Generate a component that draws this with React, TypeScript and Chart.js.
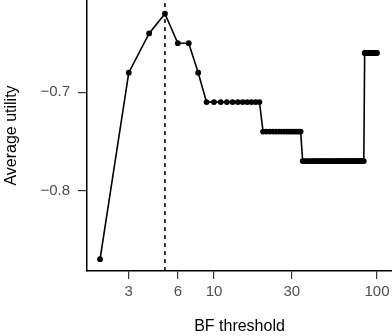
import React, { useEffect, useRef } from "react";
import { Chart, registerables } from "chart.js";

Chart.register(...registerables);

const bfThreshold = [
  2, 3, 4, 5, 6, 7, 8, 9, 10, 11, 12, 13, 14, 15, 16, 17, 18, 19, 20,
  21, 22, 23, 24, 25, 26, 27, 28, 29, 30, 31, 32, 33, 34, 35, 36, 37, 38, 39, 40,
  41, 42, 43, 44, 45, 46, 47, 48, 49, 50, 51, 52, 53, 54, 55, 56, 57, 58, 59, 60,
  61, 62, 63, 64, 65, 66, 67, 68, 69, 70, 71, 72, 73, 74, 75, 76, 77, 78, 79, 80,
  81, 82, 83, 84, 85, 86, 87, 88, 89, 90, 91, 92, 93, 94, 95, 96, 97, 98, 99, 100,
];

const averageUtility = [
  -0.87, -0.68, -0.64, -0.62, -0.65, -0.65, -0.68,
  -0.71, -0.71, -0.71, -0.71, -0.71, -0.71, -0.71, -0.71, -0.71, -0.71, -0.71,
  -0.74, -0.74, -0.74, -0.74, -0.74, -0.74, -0.74, -0.74, -0.74, -0.74, -0.74, -0.74, -0.74, -0.74, -0.74,
  -0.77, -0.77, -0.77, -0.77, -0.77, -0.77, -0.77, -0.77, -0.77, -0.77,
  -0.77, -0.77, -0.77, -0.77, -0.77, -0.77, -0.77, -0.77, -0.77, -0.77,
  -0.77, -0.77, -0.77, -0.77, -0.77, -0.77, -0.77, -0.77, -0.77, -0.77,
  -0.77, -0.77, -0.77, -0.77, -0.77, -0.77, -0.77, -0.77, -0.77, -0.77,
  -0.77, -0.77, -0.77, -0.77, -0.77, -0.77, -0.77, -0.77, -0.77,
  -0.66, -0.66, -0.66, -0.66, -0.66, -0.66, -0.66, -0.66, -0.66, -0.66,
  -0.66, -0.66, -0.66, -0.66, -0.66, -0.66, -0.66,
];

const optimalThreshold = 5;

const xTicks = [3, 6, 10, 30, 100];
const yTicks = [-0.8, -0.7];

const xMin = 1.663;
const xMax = 123.6;
const yMin = -0.882;
const yMax = -0.606;

const zeroPadding = (s: any) => {
  s.paddingTop = 0;
  s.paddingBottom = 0;
  s.paddingLeft = 0;
  s.paddingRight = 0;
};

export default function App() {
  const ref = useRef<HTMLCanvasElement>(null);

  useEffect(() => {
    if (!ref.current) return;
    const points = bfThreshold.map((x, i) => ({ x, y: averageUtility[i] }));
    const vline = [
      { x: optimalThreshold, y: yMin },
      { x: optimalThreshold, y: yMax },
    ];
    const tickFont = { family: "'Liberation Sans', Arial, sans-serif", size: 15 };
    const titleFont = { family: "'Liberation Sans', Arial, sans-serif", size: 16 };
    const chart = new Chart(ref.current, {
      type: "line",
      data: {
        datasets: [
          {
            data: vline,
            borderColor: "#000",
            borderWidth: 1.5,
            borderDash: [4, 4],
            pointRadius: 0,
            clip: false,
          } as any,
          {
            data: points,
            borderColor: "#000",
            backgroundColor: "#000",
            borderWidth: 1.6,
            pointRadius: 2.9,
            pointBorderWidth: 0,
            pointBackgroundColor: "#000",
            tension: 0,
            clip: false,
          } as any,
        ],
      },
      options: {
        animation: false,
        responsive: false,
        devicePixelRatio: 1,
        layout: { padding: 0, autoPadding: false },
        plugins: { legend: { display: false }, tooltip: { enabled: false } },
        scales: {
          x: {
            type: "logarithmic",
            min: xMin,
            max: xMax,
            bounds: "data",
            afterBuildTicks: (s: any) => {
              s.ticks = xTicks.map((v) => ({ value: v }));
            },
            afterFit: (s: any) => {
              s.height = 65;
              zeroPadding(s);
            },
            ticks: {
              autoSkip: false,
              maxRotation: 0,
              color: "#4d4d4d",
              font: tickFont,
              padding: 4,
              callback: (v: any) => String(v),
            },
            grid: {
              display: true,
              drawOnChartArea: false,
              drawTicks: true,
              tickLength: 8,
              color: "#333",
              lineWidth: 1.2,
            },
            border: { display: true, color: "#000", width: 1.5 },
            title: {
              display: true,
              text: "BF threshold",
              color: "#000",
              font: titleFont,
              padding: { top: 0, bottom: 0 },
            },
          },
          y: {
            type: "linear",
            min: yMin,
            max: yMax,
            bounds: "data",
            afterBuildTicks: (s: any) => {
              s.ticks = yTicks.map((v) => ({ value: v }));
            },
            afterFit: (s: any) => {
              s.width = 87;
              zeroPadding(s);
            },
            ticks: {
              autoSkip: false,
              color: "#4d4d4d",
              font: tickFont,
              padding: 8,
              callback: (v: any) =>
                (Number(v) < 0 ? "\u2212" : "") + Math.abs(Number(v)).toFixed(1),
            },
            grid: {
              display: true,
              drawOnChartArea: false,
              drawTicks: true,
              tickLength: 9,
              color: "#333",
              lineWidth: 1.2,
            },
            border: { display: true, color: "#000", width: 1.5 },
            title: {
              display: true,
              text: "Average utility",
              color: "#000",
              font: titleFont,
              padding: { top: 2, bottom: 0 },
            },
          },
        },
      },
    });
    return () => chart.destroy();
  }, []);

  return (
    <div style={{ position: "absolute", left: 0, top: 0, width: 392, height: 336, background: "#fff" }}>
      <canvas ref={ref} width={392} height={336} style={{ display: "block" }} />
    </div>
  );
}
